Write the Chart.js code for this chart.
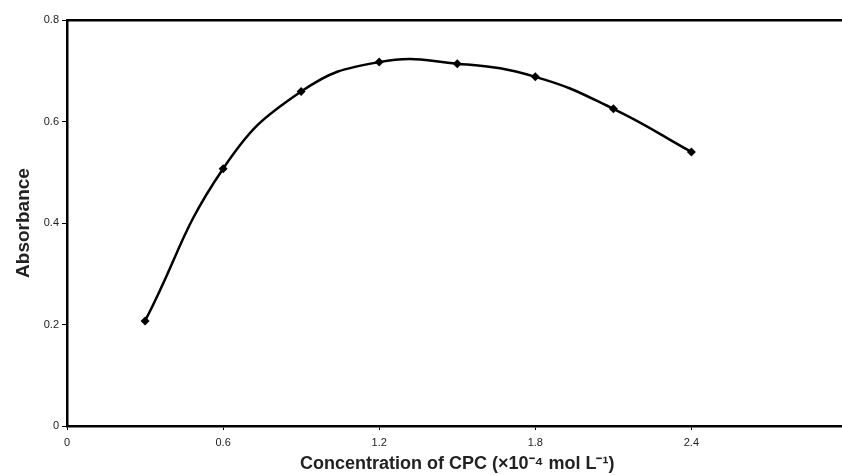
<!DOCTYPE html>
<html>
<head>
<meta charset="utf-8">
<script src="https://cdn.jsdelivr.net/npm/chart.js@4"></script>
<style>
html,body{margin:0;padding:0;background:#fff;overflow:hidden;}
#wrap{width:842px;height:475px;position:relative;overflow:hidden;}
</style>
</head>
<body>
<div id="wrap"><canvas id="c" width="852" height="475"></canvas></div>
<script>
const concentrations = [0.3, 0.6, 0.9, 1.2, 1.5, 1.8, 2.1, 2.4];
const absorbance = [0.207, 0.507, 0.659, 0.717, 0.714, 0.688, 0.625, 0.540];
const xTicks = [0, 0.6, 1.2, 1.8, 2.4];
const yTicks = [0, 0.2, 0.4, 0.6, 0.8];
const xTitle = 'Concentration of CPC (×10⁻⁴ mol L⁻¹)';
const yTitle = 'Absorbance';

const points = concentrations.map((x, i) => ({x: x, y: absorbance[i]}));
const tickFont = {family: 'Liberation Sans, Arial, sans-serif', size: 11};

new Chart(document.getElementById('c'), {
  type: 'line',
  data: {
    datasets: [{
      data: points,
      borderColor: '#000',
      backgroundColor: '#000',
      borderWidth: 2.5,
      tension: 0.45,
      pointStyle: 'rectRot',
      pointRadius: 4.5,
      pointBorderWidth: 0,
      fill: false
    }]
  },
  options: {
    responsive: false,
    animation: false,
    events: [],
    layout: {padding: {left: 0, right: 0, top: 20, bottom: 0}},
    plugins: {legend: {display: false}, tooltip: {enabled: false}},
    scales: {
      x: {
        type: 'linear',
        min: 0,
        max: 3.0,
        afterBuildTicks: s => { s.ticks = xTicks.map(v => ({value: v})); },
        afterFit: s => { s.height = 49; },
        border: {color: '#000', width: 2.5},
        grid: {display: true, drawOnChartArea: false, drawTicks: true, tickLength: 4, color: '#000'},
        ticks: {color: '#222', font: tickFont, padding: 6, callback: v => String(v)},
        title: {display: true, text: xTitle, color: '#222', font: {family: 'Liberation Sans, Arial, sans-serif', size: 18, weight: 'bold'}, padding: {top: 2, bottom: 0}}
      },
      x2: {
        type: 'linear',
        position: 'top',
        min: 0,
        max: 3.0,
        afterFit: s => { s.height = 0; },
        border: {color: '#000', width: 2.5},
        grid: {display: false},
        ticks: {display: false}
      },
      y: {
        min: 0,
        max: 0.8,
        afterBuildTicks: s => { s.ticks = yTicks.map(v => ({value: v})); },
        afterFit: s => { s.width = 67; },
        border: {color: '#000', width: 2.5},
        grid: {display: true, drawOnChartArea: false, drawTicks: true, tickLength: 5, color: '#000'},
        ticks: {color: '#222', font: tickFont, padding: 3, callback: v => String(v)},
        title: {display: true, text: yTitle, color: '#222', font: {family: 'Liberation Sans, Arial, sans-serif', size: 19, weight: 'bold'}, padding: {top: 12, bottom: 0}}
      }
    }
  }
});
</script>
</body>
</html>
